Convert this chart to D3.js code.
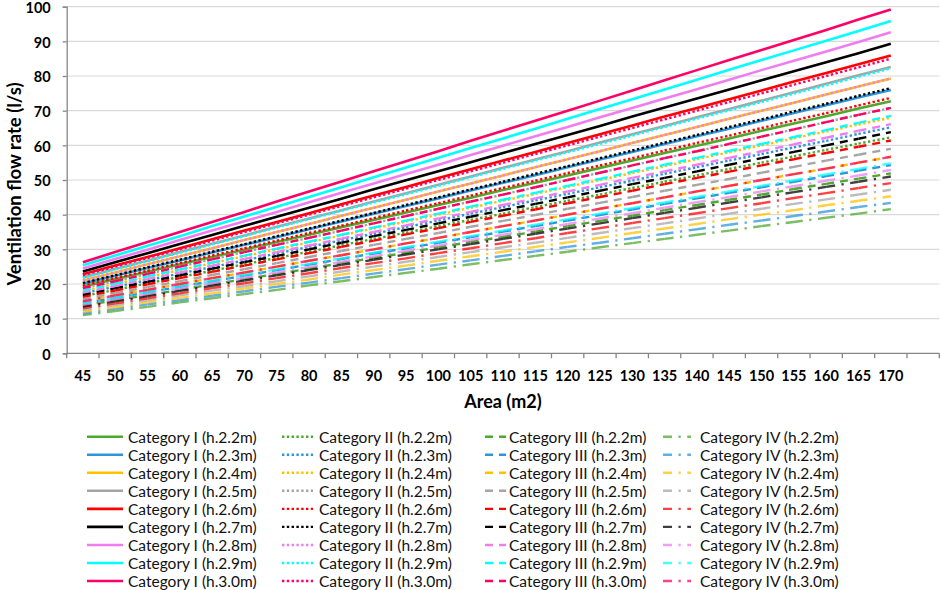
<!DOCTYPE html>
<html>
<head>
<meta charset="utf-8">
<script src="https://cdn.jsdelivr.net/npm/d3@7"></script>
<style>
  html, body { margin: 0; padding: 0; background: #fff; }
  svg { display: block; }
  text { font-family: Lato, "Open Sans", sans-serif; }
</style>
</head>
<body>
<svg id="chart" width="941" height="590"></svg>
<script>
// ---------- data ----------
const areas = [45,50,55,60,65,70,75,80,85,90,95,100,105,110,115,120,125,130,135,140,145,150,155,160,165,170];
const xTickLabels = ["45","50","55","60","65","70","75","80","85","90","95","100","105","110","115","120","125","130","135","140","145","150","155","160","165","170",""];
const yTicks = [0,10,20,30,40,50,60,70,80,90,100];
const heights = ["2.2","2.3","2.4","2.5","2.6","2.7","2.8","2.9","3.0"];
const categories = ["Category I","Category II","Category III","Category IV"];

const catI = [
  [19.3,21.4,23.5,25.7,27.8,29.9,32.1,34.2,36.4,38.5,40.6,42.8,44.9,47.1,49.2,51.3,53.5,55.6,57.8,59.9,62.0,64.2,66.3,68.4,70.6,72.7],
  [20.1,22.4,24.6,26.8,29.1,31.3,33.5,35.8,38.0,40.3,42.5,44.7,47.0,49.2,51.4,53.7,55.9,58.1,60.4,62.6,64.8,67.1,69.3,71.6,73.8,76.0],
  [21.0,23.3,25.7,28.0,30.3,32.7,35.0,37.3,39.7,42.0,44.3,46.7,49.0,51.3,53.7,56.0,58.3,60.7,63.0,65.3,67.7,70.0,72.3,74.7,77.0,79.3],
  [21.9,24.3,26.7,29.2,31.6,34.0,36.5,38.9,41.3,43.8,46.2,48.6,51.0,53.5,55.9,58.3,60.8,63.2,65.6,68.1,70.5,72.9,75.3,77.8,80.2,82.6],
  [22.8,25.3,27.8,30.3,32.9,35.4,37.9,40.4,43.0,45.5,48.0,50.6,53.1,55.6,58.1,60.7,63.2,65.7,68.3,70.8,73.3,75.8,78.4,80.9,83.4,85.9],
  [23.6,26.3,28.9,31.5,34.1,36.8,39.4,42.0,44.6,47.3,49.9,52.5,55.1,57.8,60.4,63.0,65.6,68.3,70.9,73.5,76.1,78.8,81.4,84.0,86.6,89.3],
  [24.5,27.2,29.9,32.7,35.4,38.1,40.8,43.6,46.3,49.0,51.7,54.4,57.2,59.9,62.6,65.3,68.1,70.8,73.5,76.2,78.9,81.7,84.4,87.1,89.8,92.6],
  [25.4,28.2,31.0,33.8,36.7,39.5,42.3,45.1,47.9,50.8,53.6,56.4,59.2,62.0,64.8,67.7,70.5,73.3,76.1,78.9,81.8,84.6,87.4,90.2,93.0,95.9],
  [26.3,29.2,32.1,35.0,37.9,40.8,43.8,46.7,49.6,52.5,55.4,58.3,61.3,64.2,67.1,70.0,72.9,75.8,78.8,81.7,84.6,87.5,90.4,93.3,96.3,99.2]
];
const catII = [
  [16.5,18.3,20.2,22.0,23.8,25.7,27.5,29.3,31.2,33.0,34.8,36.7,38.5,40.3,42.2,44.0,45.8,47.7,49.5,51.3,53.2,55.0,56.8,58.7,60.5,62.3],
  [17.3,19.2,21.1,23.0,24.9,26.8,28.8,30.7,32.6,34.5,36.4,38.3,40.3,42.2,44.1,46.0,47.9,49.8,51.8,53.7,55.6,57.5,59.4,61.3,63.3,65.2],
  [18.0,20.0,22.0,24.0,26.0,28.0,30.0,32.0,34.0,36.0,38.0,40.0,42.0,44.0,46.0,48.0,50.0,52.0,54.0,56.0,58.0,60.0,62.0,64.0,66.0,68.0],
  [18.8,20.8,22.9,25.0,27.1,29.2,31.3,33.3,35.4,37.5,39.6,41.7,43.8,45.8,47.9,50.0,52.1,54.2,56.3,58.3,60.4,62.5,64.6,66.7,68.8,70.8],
  [19.5,21.7,23.8,26.0,28.2,30.3,32.5,34.7,36.8,39.0,41.2,43.3,45.5,47.7,49.8,52.0,54.2,56.3,58.5,60.7,62.8,65.0,67.2,69.3,71.5,73.7],
  [20.3,22.5,24.8,27.0,29.3,31.5,33.8,36.0,38.3,40.5,42.8,45.0,47.3,49.5,51.8,54.0,56.3,58.5,60.8,63.0,65.3,67.5,69.8,72.0,74.3,76.5],
  [21.0,23.3,25.7,28.0,30.3,32.7,35.0,37.3,39.7,42.0,44.3,46.7,49.0,51.3,53.7,56.0,58.3,60.7,63.0,65.3,67.7,70.0,72.3,74.7,77.0,79.3],
  [21.8,24.2,26.6,29.0,31.4,33.8,36.3,38.7,41.1,43.5,45.9,48.3,50.8,53.2,55.6,58.0,60.4,62.8,65.3,67.7,70.1,72.5,74.9,77.3,79.8,82.2],
  [22.5,25.0,27.5,30.0,32.5,35.0,37.5,40.0,42.5,45.0,47.5,50.0,52.5,55.0,57.5,60.0,62.5,65.0,67.5,70.0,72.5,75.0,77.5,80.0,82.5,85.0]
];
const catIII = [
  [13.8,15.3,16.8,18.3,19.9,21.4,22.9,24.4,26.0,27.5,29.0,30.6,32.1,33.6,35.1,36.7,38.2,39.7,41.3,42.8,44.3,45.8,47.4,48.9,50.4,51.9],
  [14.4,16.0,17.6,19.2,20.8,22.4,24.0,25.6,27.2,28.8,30.3,31.9,33.5,35.1,36.7,38.3,39.9,41.5,43.1,44.7,46.3,47.9,49.5,51.1,52.7,54.3],
  [15.0,16.7,18.3,20.0,21.7,23.3,25.0,26.7,28.3,30.0,31.7,33.3,35.0,36.7,38.3,40.0,41.7,43.3,45.0,46.7,48.3,50.0,51.7,53.3,55.0,56.7],
  [15.6,17.4,19.1,20.8,22.6,24.3,26.0,27.8,29.5,31.3,33.0,34.7,36.5,38.2,39.9,41.7,43.4,45.1,46.9,48.6,50.3,52.1,53.8,55.6,57.3,59.0],
  [16.3,18.1,19.9,21.7,23.5,25.3,27.1,28.9,30.7,32.5,34.3,36.1,37.9,39.7,41.5,43.3,45.1,46.9,48.8,50.6,52.4,54.2,56.0,57.8,59.6,61.4],
  [16.9,18.8,20.6,22.5,24.4,26.3,28.1,30.0,31.9,33.8,35.6,37.5,39.4,41.3,43.1,45.0,46.9,48.8,50.6,52.5,54.4,56.3,58.1,60.0,61.9,63.8],
  [17.5,19.4,21.4,23.3,25.3,27.2,29.2,31.1,33.1,35.0,36.9,38.9,40.8,42.8,44.7,46.7,48.6,50.6,52.5,54.4,56.4,58.3,60.3,62.2,64.2,66.1],
  [18.1,20.1,22.2,24.2,26.2,28.2,30.2,32.2,34.2,36.3,38.3,40.3,42.3,44.3,46.3,48.3,50.3,52.4,54.4,56.4,58.4,60.4,62.4,64.4,66.5,68.5],
  [18.8,20.8,22.9,25.0,27.1,29.2,31.3,33.3,35.4,37.5,39.6,41.7,43.8,45.8,47.9,50.0,52.1,54.2,56.3,58.3,60.4,62.5,64.6,66.7,68.8,70.8]
];
const catIV = [
  [11.0,12.2,13.4,14.7,15.9,17.1,18.3,19.6,20.8,22.0,23.2,24.4,25.7,26.9,28.1,29.3,30.6,31.8,33.0,34.2,35.4,36.7,37.9,39.1,40.3,41.6],
  [11.5,12.8,14.1,15.3,16.6,17.9,19.2,20.4,21.7,23.0,24.3,25.6,26.8,28.1,29.4,30.7,31.9,33.2,34.5,35.8,37.1,38.3,39.6,40.9,42.2,43.4],
  [12.0,13.3,14.7,16.0,17.3,18.7,20.0,21.3,22.7,24.0,25.3,26.7,28.0,29.3,30.7,32.0,33.3,34.7,36.0,37.3,38.7,40.0,41.3,42.7,44.0,45.3],
  [12.5,13.9,15.3,16.7,18.1,19.4,20.8,22.2,23.6,25.0,26.4,27.8,29.2,30.6,31.9,33.3,34.7,36.1,37.5,38.9,40.3,41.7,43.1,44.4,45.8,47.2],
  [13.0,14.4,15.9,17.3,18.8,20.2,21.7,23.1,24.6,26.0,27.4,28.9,30.3,31.8,33.2,34.7,36.1,37.6,39.0,40.4,41.9,43.3,44.8,46.2,47.7,49.1],
  [13.5,15.0,16.5,18.0,19.5,21.0,22.5,24.0,25.5,27.0,28.5,30.0,31.5,33.0,34.5,36.0,37.5,39.0,40.5,42.0,43.5,45.0,46.5,48.0,49.5,51.0],
  [14.0,15.6,17.1,18.7,20.2,21.8,23.3,24.9,26.4,28.0,29.6,31.1,32.7,34.2,35.8,37.3,38.9,40.4,42.0,43.6,45.1,46.7,48.2,49.8,51.3,52.9],
  [14.5,16.1,17.7,19.3,20.9,22.6,24.2,25.8,27.4,29.0,30.6,32.2,33.8,35.4,37.1,38.7,40.3,41.9,43.5,45.1,46.7,48.3,49.9,51.6,53.2,54.8],
  [15.0,16.7,18.3,20.0,21.7,23.3,25.0,26.7,28.3,30.0,31.7,33.3,35.0,36.7,38.3,40.0,41.7,43.3,45.0,46.7,48.3,50.0,51.7,53.3,55.0,56.7]
];

// ---------- styles ----------
const heightColors = ["#4ea72e","#2e95d8","#ffc000","#a5a5a5","#ff0000","#000000","#f07cf0","#00ffff","#ff0066"];
const catStyles = [
  { dash: null,             width: 2.6,  opacity: 1,    legX1: 87,  legX2: 123, textX: 128 },
  { dash: "2.4,2.4",        width: 2.4,  opacity: 1,    legX1: 282, legX2: 313, textX: 319 },
  { dash: "8,6",            width: 2.4,  opacity: 1,    legX1: 485, legX2: 506, textX: 509 },
  { dash: "9,6.5,2.25,6.5", width: 2.4,  opacity: 0.75, legX1: 663, legX2: 691, textX: 700 }
];

// ---------- build series ----------
const allCats = [catI, catII, catIII, catIV];
const series = [];
allCats.forEach((cat, ci) => {
  cat.forEach((vals, hi) => {
    series.push({
      name: `${categories[ci]} (h.${heights[hi]}m)`,
      ci, hi,
      values: vals.map((v, i) => ({ idx: i, area: areas[i], v }))
    });
  });
});

// ---------- layout ----------
const svg = d3.select("#chart");
const plot = { left: 66.7, right: 939.3, top: 6.7, bottom: 353.3 };

const x = d3.scaleBand()
  .domain(xTickLabels.map((d, i) => i))
  .range([plot.left, plot.right])
  .paddingInner(0).paddingOuter(0);
const xc = i => x(i) + x.bandwidth() / 2;

const y = d3.scaleLinear().domain([0, 100]).range([plot.bottom, plot.top]);

// gridlines
svg.append("g")
  .selectAll("line")
  .data(yTicks.filter(d => d > 0))
  .join("line")
  .attr("x1", plot.left).attr("x2", plot.right)
  .attr("y1", d => y(d)).attr("y2", d => y(d))
  .attr("stroke", "#d9d9d9").attr("stroke-width", 1.2);

// y axis
const yAxis = d3.axisLeft(y).tickValues(yTicks).tickSize(4).tickPadding(12);
const gy = svg.append("g").attr("transform", `translate(${plot.left},0)`).call(yAxis);
gy.select(".domain").attr("stroke", "#868686").attr("stroke-width", 1.3);
gy.selectAll(".tick line").attr("stroke", "#868686").attr("stroke-width", 1.3);
gy.selectAll(".tick text")
  .attr("font-family", "Lato, sans-serif")
  .attr("dy", "0.4em")
  .attr("font-size", 14.5).attr("font-weight", "bold").attr("fill", "#000");

// x axis (category boundaries as ticks, labels centred in bands)
const gx = svg.append("g");
gx.append("line")
  .attr("x1", plot.left).attr("x2", plot.right)
  .attr("y1", plot.bottom).attr("y2", plot.bottom)
  .attr("stroke", "#868686").attr("stroke-width", 1.3);
gx.selectAll("line.tk")
  .data(d3.range(xTickLabels.length + 1))
  .join("line").attr("class", "tk")
  .attr("x1", i => i < xTickLabels.length ? x(i) : plot.right)
  .attr("x2", i => i < xTickLabels.length ? x(i) : plot.right)
  .attr("y1", plot.bottom).attr("y2", plot.bottom + 5)
  .attr("stroke", "#868686").attr("stroke-width", 1.3);
gx.selectAll("text")
  .data(xTickLabels.map((d, i) => ({ d, i })))
  .join("text")
  .attr("x", o => xc(o.i)).attr("y", plot.bottom + 28)
  .attr("text-anchor", "middle")
  .attr("font-size", 14.5).attr("font-weight", "bold").attr("fill", "#000")
  .text(o => o.d);

// axis titles
svg.append("text")
  .attr("x", 503).attr("y", 408)
  .attr("text-anchor", "middle")
  .attr("font-size", 18).attr("font-weight", "bold").attr("fill", "#000")
  .text("Area (m2)");
svg.append("text")
  .attr("transform", `translate(21,${184}) rotate(-90)`)
  .attr("text-anchor", "middle")
  .attr("font-size", 18.5).attr("font-weight", "bold").attr("fill", "#000")
  .text("Ventilation flow rate (l/s)");

// ---------- lines ----------
const line = d3.line().x(d => xc(d.idx)).y(d => y(d.v));
const gl = svg.append("g");
series.forEach(s => {
  const st = catStyles[s.ci];
  const col = heightColors[s.hi];
  if (!st.dash) {
    gl.append("path")
      .datum(s.values)
      .attr("d", line)
      .attr("fill", "none")
      .attr("stroke", col)
      .attr("stroke-width", st.width)
      .attr("stroke-linejoin", "round");
  } else {
    // dash pattern restarts on each segment between categories
    const segs = d3.pairs(s.values);
    gl.append("g").selectAll("path")
      .data(segs)
      .join("path")
      .attr("d", d => line(d))
      .attr("fill", "none")
      .attr("stroke", col)
      .attr("stroke-opacity", st.opacity)
      .attr("stroke-width", st.width)
      .attr("stroke-dasharray", st.dash);
  }
});

// ---------- legend ----------
const legRow0 = 436.7, legRowStep = 18.04;
const gLeg = svg.append("g");
series.forEach(s => {
  const st = catStyles[s.ci];
  const yy = legRow0 + s.hi * legRowStep;
  gLeg.append("line")
    .attr("x1", st.legX1).attr("x2", st.legX2)
    .attr("y1", yy).attr("y2", yy)
    .attr("stroke", heightColors[s.hi])
    .attr("stroke-opacity", st.opacity)
    .attr("stroke-width", st.width)
    .attr("stroke-dasharray", st.dash);
  gLeg.append("text")
    .attr("x", st.textX).attr("y", yy)
    .attr("dominant-baseline", "central")
    .attr("font-size", 15.5).attr("fill", "#111")
    .text(s.name);
});
</script>
</body>
</html>
